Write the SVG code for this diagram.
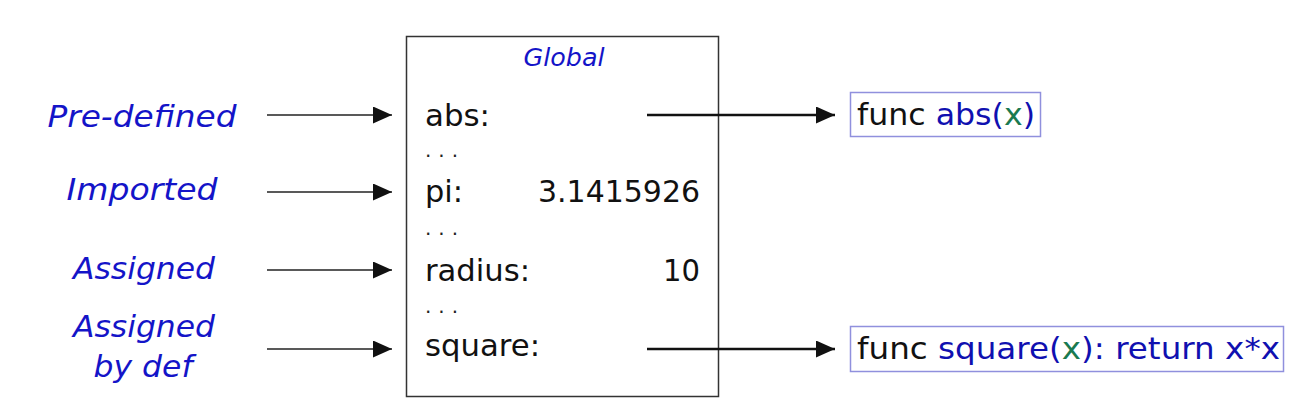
<svg xmlns="http://www.w3.org/2000/svg" width="1292" height="417" viewBox="0 0 1292 417">
<defs>
<style>
.lbl{font-family:"DejaVu Sans","Liberation Sans",sans-serif;font-style:italic;font-size:31px;fill:#1414c8;text-anchor:middle}
.t{font-family:"DejaVu Sans","Liberation Sans",sans-serif;font-size:31px;fill:#111}
.b{fill:#1010b0}
.g{fill:#1a7a50}
.dot{font-family:"DejaVu Sans",sans-serif;font-size:20px;fill:#222}
.ln{stroke:#222;stroke-width:1.6;fill:none}
.ln2{stroke:#111;stroke-width:2.6;fill:none}
</style>
<marker id="ah" markerWidth="20" markerHeight="18" refX="19" refY="8.5" orient="auto" markerUnits="userSpaceOnUse">
<path d="M0,0 L19,8.5 L0,17 Z" fill="#111"/>
</marker>
</defs>
<rect width="1292" height="417" fill="#fff"/>

<g id="label-predefined"><text class="lbl" x="142" y="127" textLength="189" lengthAdjust="spacingAndGlyphs">Pre-defined</text></g>
<g id="label-imported"><text class="lbl" x="142" y="200" textLength="151" lengthAdjust="spacingAndGlyphs">Imported</text></g>
<g id="label-assigned"><text class="lbl" x="144" y="279" textLength="142" lengthAdjust="spacingAndGlyphs">Assigned</text></g>
<g id="label-assigned-def">
<text class="lbl" x="144" y="337" textLength="142" lengthAdjust="spacingAndGlyphs">Assigned</text>
<text class="lbl" x="143" y="377" textLength="99" lengthAdjust="spacingAndGlyphs">by def</text>
</g>

<g id="global-frame">
<rect x="406.5" y="36.5" width="312" height="360" fill="none" stroke="#333" stroke-width="1.5"/>
<text class="lbl" x="564" y="66" style="font-size:24px" textLength="81" lengthAdjust="spacingAndGlyphs">Global</text>
<text class="t" x="425" y="126" textLength="65" lengthAdjust="spacingAndGlyphs">abs:</text>
<text class="dot" x="425" y="157" letter-spacing="7">...</text>
<text class="t" x="425" y="202" textLength="38" lengthAdjust="spacingAndGlyphs">pi:</text>
<text class="t" x="700" y="202" text-anchor="end" textLength="162" lengthAdjust="spacingAndGlyphs">3.1415926</text>
<text class="dot" x="425" y="235" letter-spacing="7">...</text>
<text class="t" x="425" y="281" textLength="105" lengthAdjust="spacingAndGlyphs">radius:</text>
<text class="t" x="700" y="281" text-anchor="end" textLength="37" lengthAdjust="spacingAndGlyphs">10</text>
<text class="dot" x="425" y="313" letter-spacing="7">...</text>
<text class="t" x="425" y="356" textLength="115" lengthAdjust="spacingAndGlyphs">square:</text>
</g>

<g id="func-abs">
<rect x="850.5" y="92.5" width="190" height="44" fill="#fff" stroke="#9090dd" stroke-width="1.5"/>
<text class="t" x="857" y="125" textLength="178" lengthAdjust="spacingAndGlyphs">func <tspan class="b">abs(</tspan><tspan class="g">x</tspan><tspan class="b">)</tspan></text>
</g>

<g id="func-square">
<rect x="850.5" y="326.5" width="433" height="45" fill="#fff" stroke="#9090dd" stroke-width="1.5"/>
<text class="t" x="857" y="359" textLength="423" lengthAdjust="spacingAndGlyphs">func <tspan class="b">square(</tspan><tspan class="g">x</tspan><tspan class="b">): return x*x</tspan></text>
</g>

<g id="connectors">
<line class="ln" x1="267" y1="115" x2="392" y2="115" marker-end="url(#ah)"/>
<line class="ln" x1="267" y1="192" x2="392" y2="192" marker-end="url(#ah)"/>
<line class="ln" x1="267" y1="270" x2="392" y2="270" marker-end="url(#ah)"/>
<line class="ln" x1="267" y1="349" x2="392" y2="349" marker-end="url(#ah)"/>
<line class="ln2" x1="647" y1="115" x2="835" y2="115" marker-end="url(#ah)"/>
<line class="ln2" x1="647" y1="349" x2="835" y2="349" marker-end="url(#ah)"/>
</g>
</svg>
